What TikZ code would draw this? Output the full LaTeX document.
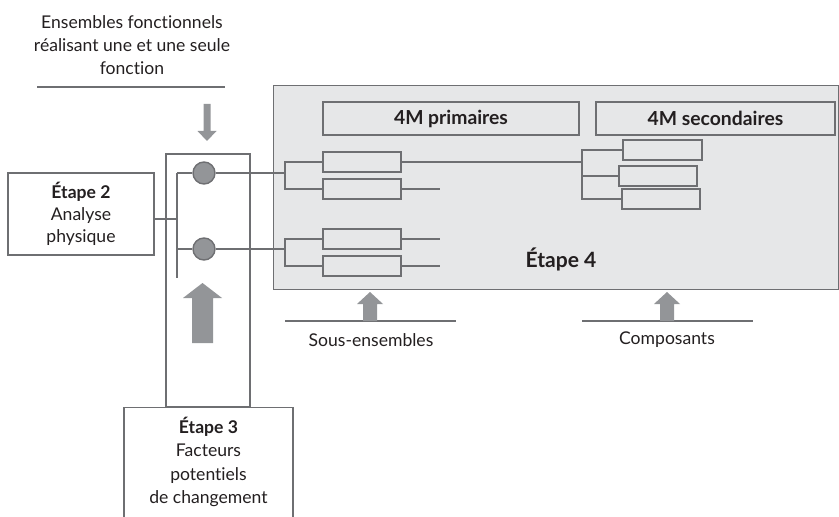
\documentclass[tikz,border=0pt]{standalone}
\usepackage{fontspec}
\setmainfont{Lato}[Ligatures=NoCommon]
\usetikzlibrary{positioning}
\definecolor{lineGray}{RGB}{110,111,114}
\definecolor{arrowGray}{RGB}{147,149,152}
\definecolor{stageBg}{RGB}{230,231,232}
\definecolor{inkDark}{RGB}{35,31,32}
\tikzset{
    every node/.append style={align=center,text=inkDark},
    ln/.style={draw=lineGray,line width=0.8pt},
    stage/.style={rectangle,ln,fill=white,font=\fontsize{10}{12.5}\selectfont,inner sep=0pt},
    leaf/.style={rectangle,ln,minimum width=1.56cm,minimum height=0.4cm,inner sep=0pt},
    head/.style={rectangle,ln,minimum height=0.66cm,font=\bfseries\fontsize{11}{13}\selectfont,inner sep=0pt},
    dot/.style={circle,ln,fill=arrowGray,minimum size=0.44cm,inner sep=0pt},
    lbl/.style={font=\fontsize{10}{13.2}\selectfont,inner sep=0pt}
}
% fat block arrow: x, tip y, head base y, tail y, half head, half shaft
\newcommand{\fatarrow}[6]{%
  \fill[arrowGray] (#1,#2) -- ({#1+#5},#3) -- ({#1+#6},#3) -- ({#1+#6},#4)
    -- ({#1-#6},#4) -- ({#1-#6},#3) -- ({#1-#5},#3) -- cycle;}

\begin{document}
\begin{tikzpicture}[x=0.02cm,y=-0.02cm]
    \clip (0,0) rectangle (839,517);

    % top label and incoming arrow
    \node[lbl] (func) at (132,45) {Ensembles fonctionnels\\réalisant une et une seule\\fonction};
    \draw[ln] (37,87) -- (225,87);
    \fatarrow{207}{141}{131}{104}{9.5}{3.5}

    % column of functional sets and the two side stages
    \node[rectangle,ln,minimum width=1.68cm,minimum height=5.06cm] (col) at (208,280.5) {};
    \node[stage,minimum width=3.38cm,minimum height=2.5cm,anchor=north] (e3) at (208.5,407) {};
    \node[lbl,anchor=north] (e3txt) at (208.5,417) {\textbf{Étape 3}\\Facteurs\\potentiels\\de changement};
    \node[stage,minimum width=2.92cm,minimum height=1.64cm] (e2) at (81,214) {\textbf{Étape 2}\\Analyse\\physique};
    \fatarrow{202.5}{283}{298}{343}{19.5}{10.5}

    % stage 4 area
    \node[rectangle,ln,fill=stageBg,minimum width=11.3cm,minimum height=4.08cm,anchor=north west] (e4) at (273,85) {};
    \node[head,minimum width=5.12cm] (prim) at (451,118.5) {4M primaires};
    \node[head,minimum width=4.78cm] (sec)  at (715.5,118.5) {4M secondaires};
    \node[font=\bfseries\fontsize{12}{14}\selectfont] (e4txt) at (561,259) {Étape 4};

    \node[dot] (c1) at (204,173) {};
    \node[dot] (c2) at (204,249) {};
    \node[leaf] (a1) at (362,162) {};
    \node[leaf] (a2) at (362,189) {};
    \node[leaf] (b1) at (362,239) {};
    \node[leaf] (b2) at (362,266) {};
    \node[leaf,minimum width=1.58cm] (s1) at (662.5,150) {};
    \node[leaf] (s2) at (658,176) {};
    \node[leaf] (s3) at (661,199) {};

    \coordinate (j)  at (177,219);
    \coordinate (ja) at (285,176);
    \coordinate (jb) at (285,252.5);
    \coordinate (js) at (582,162);

    % tree connections
    \draw[ln] (e2.east |- j) -- (j);
    \draw[ln] (177,173) -- (177,278);
    \draw[ln] (177,173) -- (c1.west);
    \draw[ln] (177,249) -- (c2.west);
    \draw[ln] (c1.east) -- (ja |- c1);
    \draw[ln] (c2.east) -- (jb |- c2);
    \draw[ln] (a1.west) -| (ja) |- (a2.west);
    \draw[ln] (b1.west) -| (jb) |- (b2.west);
    \draw[ln] (a1.east) -- (js);
    \draw[ln] (a2.east) -- (440,189);
    \draw[ln] (b1.east) -- (440,239);
    \draw[ln] (b2.east) -- (440,266);
    \draw[ln] (s1.west) -| (js) |- (s2.west);
    \draw[ln] (js) |- (s3.west);

    % bottom inputs
    \draw[ln] (285,321) -- (456,321);
    \fatarrow{370}{292}{304}{321}{13}{7}
    \node[lbl] (sous) at (371,340) {Sous-ensembles};
    \draw[ln] (582,321) -- (753,321);
    \fatarrow{667}{292}{304}{321}{13}{7}
    \node[lbl] (comp) at (667,340) {Composants};
\end{tikzpicture}
\end{document}
